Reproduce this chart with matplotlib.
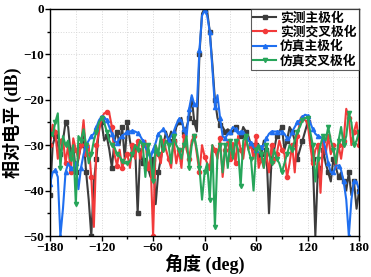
import numpy as np
import matplotlib
matplotlib.use('Agg')
from matplotlib import pyplot as plt
from matplotlib.ticker import MultipleLocator

# 角度 (deg), 3 度步进
angle = np.arange(-180, 181, 3)

meas_co = [-41, -30, -28, -30, -32, -29, -25, -26, -32, -30,
           -36, -33, -30, -28, -36, -42, -50, -38, -33, -26,
           -25, -29, -28, -31, -35, -29, -27, -30, -26, -33,
           -25, -29, -32, -30, -45, -31, -34, -33, -35, -37,
           -33, -43, -36, -33, -30, -27, -29, -27, -29, -26,
           -25, -24, -27, -26, -24, -19.5, -25, -27, -10, -1,
           0, -0.5, -5, -12, -20, -24, -25.5, -26, -27, -26.5,
           -27, -27, -26, -27, -28, -26, -27, -28, -30, -31,
           -30, -33, -32, -29, -31, -45, -33, -31, -28, -27,
           -26, -31, -29, -26, -27, -29, -33, -31, -29, -27,
           -25, -28, -33, -50, -35, -38, -31, -34, -36, -38,
           -33, -35, -37, -36, -38, -40, -36, -41, -38, -44,
           -40]

meas_cx = [-30, -25.5, -27, -33, -29, -28.5, -34, -30, -36, -28.5,
           -31, -33, -30, -24.5, -32, -30, -37, -48, -30, -27,
           -24, -23, -22.8, -23, -26, -32, -34.5, -31, -35, -33,
           -32, -35, -30, -33, -29, -33, -30, -29, -35, -33,
           -50, -30, -32, -34, -29, -31, -33, -35, -29, -34,
           -31, -35, -28, -31, -33, -29, -28, -32, -36, -30,
           -32.5, -34, -35, -30, -31, -33, -28.5, -37, -31, -29,
           -33, -29.5, -34, -28, -31, -33, -28.5, -31, -30, -33,
           -28, -35, -33, -35, -32, -36, -30, -34, -32, -29,
           -31, -32, -37, -34, -30, -36, -28, -25, -24, -24.5,
           -25, -30, -34, -31, -30, -40.5, -29, -32, -28, -32,
           -30, -35, -30, -33, -29, -22, -24, -30, -27, -25,
           -30]

sim_co = [-38.5, -36, -35.5, -37, -50, -44, -36, -34, -35, -35,
          -34, -39.7, -35, -32, -30, -29, -28, -27.5, -26, -24.5,
          -23.7, -23.8, -24.5, -26, -27.5, -29, -29.5, -28.5, -28, -27.5,
          -27, -27, -26.8, -27, -27.3, -28, -29, -30.5, -31.5, -33,
          -31, -29.5, -27.5, -27, -26.5, -27.5, -29, -28, -27, -25.5,
          -24.3, -24.5, -26.5, -28, -22, -19, -21, -21.5, -9, -1.5,
          -0.3, -1.5, -5, -13, -21.5, -19, -24, -28, -28.5, -27.5,
          -27, -26, -26.5, -27.5, -27, -27, -28, -29, -29.5, -30.5,
          -31, -30, -30.5, -30, -28.5, -27.5, -27, -27, -27, -27,
          -27, -27.5, -28.5, -28.5, -27, -26, -25, -24.5, -23.8, -23.3,
          -23.5, -25, -26.5, -27.5, -28, -28.2, -28.5, -31, -34, -36,
          -36, -34.5, -34.5, -35.5, -38, -42, -50, -42, -38, -38,
          -40]

sim_cx = [-27.5, -28, -25, -23, -35, -28, -30, -29, -33, -30,
          -43, -28, -29, -26.5, -30, -34, -32, -29, -27, -25,
          -24, -25, -27, -29, -30, -30.5, -32, -32.5, -33.5, -34,
          -34, -33.5, -32, -30, -31, -29, -30, -37, -30, -33,
          -38, -30, -32, -28, -31, -29, -30, -34, -28, -30,
          -31, -33, -30, -28, -35, -30, -28, -31, -35, -42,
          -36, -34, -42, -30, -48, -32, -30, -36, -30, -35,
          -29, -33, -29, -31, -39, -29, -28, -31, -33, -40,
          -31, -30, -32, -35, -30, -32, -34, -31, -33, -34,
          -36, -34, -32, -30, -31, -29, -27, -26, -24.5, -24,
          -24, -27, -30, -38, -33, -30, -28, -29, -26, -29,
          -31, -34, -29, -26, -30, -28, -23, -25, -30, -29,
          -27]

labels = ['实测主极化', '实测交叉极化', '仿真主极化', '仿真交叉极化']
colors = ['#3c3c3c', '#f23a3a', '#1f6ff0', '#27a55a']
markers = ['s', 'o', '^', 'v']
series = [meas_co, meas_cx, sim_co, sim_cx]

plt.rcParams['font.family'] = ['Liberation Serif', 'Noto Sans CJK SC']
plt.rcParams['font.weight'] = 'bold'

fig = plt.figure(figsize=(3.71, 2.77), dpi=100)
ax = fig.add_axes([0.135, 0.148, 0.833, 0.82])

for y, lab, c, m in zip(series, labels, colors, markers):
    ax.plot(angle, y, color=c, lw=1.5, marker=m, ms=3, markevery=2, label=lab)

ax.set_xlim(-180, 180)
ax.set_ylim(-50, 0)
ax.xaxis.set_major_locator(MultipleLocator(60))
ax.xaxis.set_minor_locator(MultipleLocator(30))
ax.yaxis.set_major_locator(MultipleLocator(10))
ax.yaxis.set_minor_locator(MultipleLocator(5))
ax.grid(True, which='both', color='#d8d8d8', ls=':', lw=0.7)
ax.tick_params(which='both', direction='out', width=1, labelsize=9.5, pad=1)
ax.tick_params(which='major', length=3.5)
ax.tick_params(which='minor', length=2)
for s in ax.spines.values():
    s.set_linewidth(1.0)
for t in ax.get_xticklabels() + ax.get_yticklabels():
    t.set_fontweight('bold')

cjk = ['Noto Sans CJK SC', 'Liberation Serif']
ax.set_xlabel('角度 (deg)', fontsize=13, fontweight='bold', labelpad=0, family=['Liberation Serif', 'Noto Sans CJK SC'])
ax.set_ylabel('相对电平 (dB)', fontsize=13, fontweight='bold', labelpad=1, family=['Liberation Serif', 'Noto Sans CJK SC'])

leg = ax.legend(loc='upper right', frameon=True, fancybox=False,
                borderpad=0.2, labelspacing=0.1, handlelength=1.8, handletextpad=0.3,
                borderaxespad=0, prop={'family': cjk, 'size': 9.2})
leg.get_frame().set_edgecolor('#333333')
leg.get_frame().set_linewidth(0.8)

fig.savefig('out.png', dpi=100)
